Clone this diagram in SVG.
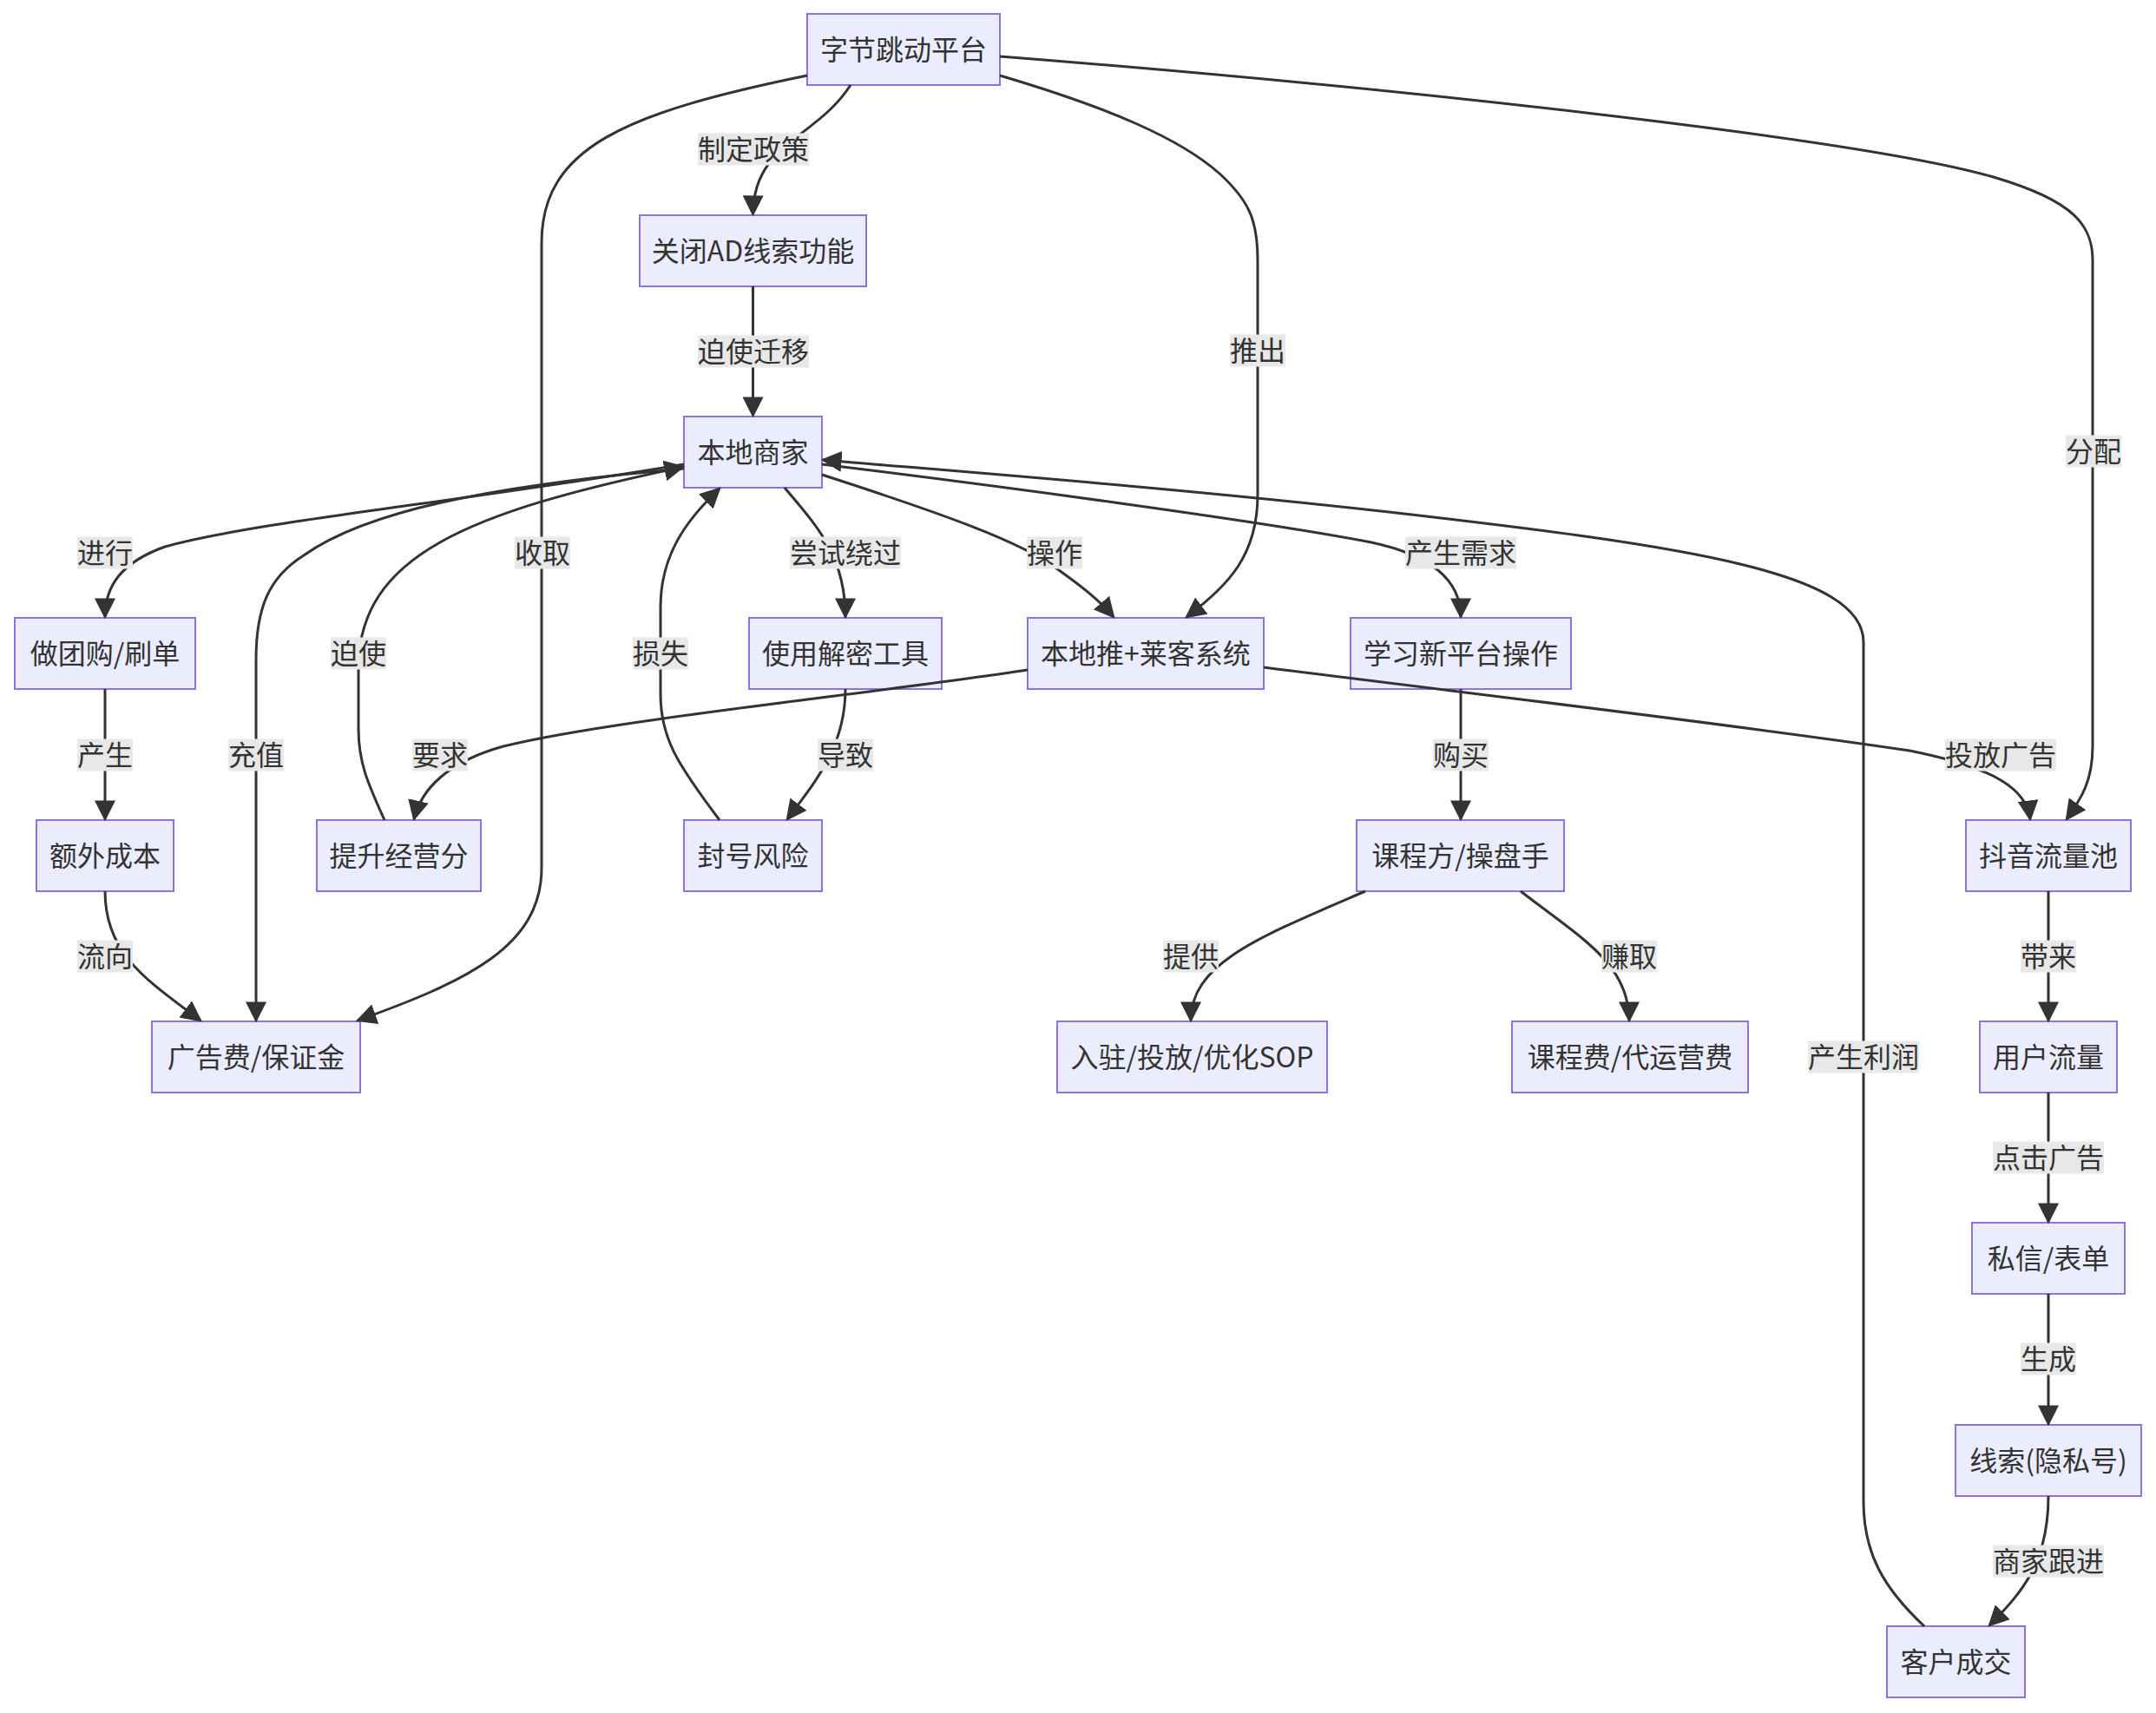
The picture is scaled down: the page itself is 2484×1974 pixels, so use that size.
<svg xmlns="http://www.w3.org/2000/svg" width="2484" height="1974" viewBox="0 0 2484 1974">
<defs>
<style>
.node rect{fill:#ECECFF;stroke:#9370DB;stroke-width:2}
text{font-family:"Noto Sans CJK SC","Liberation Sans",sans-serif;font-size:32px;fill:#333;text-anchor:middle;dominant-baseline:central;transform:translateY(-2px)}
.edge{fill:none;stroke:#333;stroke-width:3;marker-end:url(#arrow)}
.lbl rect{fill:#e8e8e8}
</style>
<marker id="arrow" viewBox="0 0 10 10" refX="9" refY="5" markerWidth="24" markerHeight="24" markerUnits="userSpaceOnUse" orient="auto">
<path d="M0,0 L10,5 L0,10 z" fill="#333"/>
</marker>
</defs>
<rect width="2484" height="1974" fill="#fff"/>
<g id="nodes">
<g id="n1" class="node"><rect x="930" y="16" width="222" height="82"/><text x="1041" y="57">字节跳动平台</text></g>
<g id="n2" class="node"><rect x="737" y="248" width="261" height="82"/><text x="867.5" y="289">关闭AD线索功能</text></g>
<g id="n3" class="node"><rect x="788" y="480" width="159" height="82"/><text x="867.5" y="521">本地商家</text></g>
<g id="n4" class="node"><rect x="17" y="712" width="208" height="82"/><text x="121" y="753">做团购/刷单</text></g>
<g id="n5" class="node"><rect x="863" y="712" width="222" height="82"/><text x="974" y="753">使用解密工具</text></g>
<g id="n6" class="node"><rect x="1184" y="712" width="272" height="82"/><text x="1320" y="753">本地推+莱客系统</text></g>
<g id="n7" class="node"><rect x="1556" y="712" width="254" height="82"/><text x="1683" y="753">学习新平台操作</text></g>
<g id="n8" class="node"><rect x="42" y="945" width="158" height="82"/><text x="121" y="986">额外成本</text></g>
<g id="n9" class="node"><rect x="365" y="945" width="189" height="82"/><text x="459.5" y="986">提升经营分</text></g>
<g id="n10" class="node"><rect x="788" y="945" width="159" height="82"/><text x="867.5" y="986">封号风险</text></g>
<g id="n11" class="node"><rect x="1563" y="945" width="239" height="82"/><text x="1682.5" y="986">课程方/操盘手</text></g>
<g id="n12" class="node"><rect x="2265" y="945" width="190" height="82"/><text x="2360" y="986">抖音流量池</text></g>
<g id="n13" class="node"><rect x="175" y="1177" width="240" height="82"/><text x="295" y="1218">广告费/保证金</text></g>
<g id="n14" class="node"><rect x="1218" y="1177" width="311" height="82"/><text x="1373.5" y="1218">入驻/投放/优化SOP</text></g>
<g id="n15" class="node"><rect x="1742" y="1177" width="272" height="82"/><text x="1878" y="1218">课程费/代运营费</text></g>
<g id="n16" class="node"><rect x="2281" y="1177" width="158" height="82"/><text x="2360" y="1218">用户流量</text></g>
<g id="n17" class="node"><rect x="2272" y="1409" width="176" height="82"/><text x="2360" y="1450">私信/表单</text></g>
<g id="n18" class="node"><rect x="2253" y="1642" width="214" height="82"/><text x="2360" y="1683">线索(隐私号)</text></g>
<g id="n19" class="node"><rect x="2174" y="1874" width="159" height="82"/><text x="2253.5" y="1915">客户成交</text></g>
</g>
<g id="connectors">
<path class="edge" d="M980,98 C940,160 868,165 867.5,247"/>
<path class="edge" d="M867.5,330 L867.5,479"/>
<path class="edge" d="M1152,87 C1280,125 1360,160 1405,200 C1440,232 1449,255 1449,300 L1449,570 C1449,640 1415,675 1367,711"/>
<path class="edge" d="M1152,65 C1600,100 2150,160 2300,205 C2390,232 2411,260 2411,300 L2411,860 C2411,900 2398,920 2381,944"/>
<path class="edge" d="M930,87 C720,130 624,170 624,280 L624,1000 C624,1090 540,1130 412,1176"/>
<path class="edge" d="M788,535 C520,580 300,600 190,630 C140,648 121,675 121,711"/>
<path class="edge" d="M788,540 C560,560 420,590 350,640 C310,665 295,700 295,760 L295,1176"/>
<path class="edge" d="M443,945 C425,905 413,880 413,840 L413,770 C413,640 540,590 787,538"/>
<path class="edge" d="M829,945 C780,880 761,850 761,800 L761,700 C761,640 790,600 829,563"/>
<path class="edge" d="M904,562 C940,605 974,640 974,711"/>
<path class="edge" d="M974,794 C974,860 940,900 907,944"/>
<path class="edge" d="M947,547 C1080,590 1180,625 1220,657 C1245,675 1265,690 1283,711"/>
<path class="edge" d="M947,535 C1150,560 1450,600 1580,625 C1650,640 1683,670 1683,711"/>
<path class="edge" d="M2217,1874 C2170,1830 2147,1790 2147,1730 L2147,740 C2147,660 1950,630 1600,590 C1350,562 1100,543 948,530"/>
<path class="edge" d="M1184,772 C1000,800 700,830 580,860 C515,878 485,910 477,944"/>
<path class="edge" d="M1456,769 C1700,800 2000,835 2200,865 C2300,885 2335,910 2339,944"/>
<path class="edge" d="M1683,794 L1683,944"/>
<path class="edge" d="M121,794 L121,944"/>
<path class="edge" d="M121,1027 C121,1100 170,1130 231,1176"/>
<path class="edge" d="M1573,1027 C1450,1080 1372,1110 1372,1176"/>
<path class="edge" d="M1752,1027 C1820,1080 1877,1110 1877,1176"/>
<path class="edge" d="M2360,1027 L2360,1176"/>
<path class="edge" d="M2360,1259 L2360,1408"/>
<path class="edge" d="M2360,1491 L2360,1641"/>
<path class="edge" d="M2360,1724 C2360,1800 2330,1835 2292,1873"/>
<g class="lbl"><rect x="804" y="153.5" width="128" height="37"/><text x="868" y="172">制定政策</text></g>
<g class="lbl"><rect x="804" y="386.5" width="128" height="37"/><text x="868" y="405">迫使迁移</text></g>
<g class="lbl"><rect x="1417" y="385.5" width="64" height="37"/><text x="1449" y="404">推出</text></g>
<g class="lbl"><rect x="2380" y="501.5" width="64" height="37"/><text x="2412" y="520">分配</text></g>
<g class="lbl"><rect x="593" y="618.5" width="64" height="37"/><text x="625" y="637">收取</text></g>
<g class="lbl"><rect x="89" y="618.5" width="64" height="37"/><text x="121" y="637">进行</text></g>
<g class="lbl"><rect x="910" y="618.5" width="128" height="37"/><text x="974" y="637">尝试绕过</text></g>
<g class="lbl"><rect x="1183" y="618.5" width="64" height="37"/><text x="1215" y="637">操作</text></g>
<g class="lbl"><rect x="1619" y="618.5" width="128" height="37"/><text x="1683" y="637">产生需求</text></g>
<g class="lbl"><rect x="381" y="734.5" width="64" height="37"/><text x="413" y="753">迫使</text></g>
<g class="lbl"><rect x="729" y="734.5" width="64" height="37"/><text x="761" y="753">损失</text></g>
<g class="lbl"><rect x="89" y="851.5" width="64" height="37"/><text x="121" y="870">产生</text></g>
<g class="lbl"><rect x="263" y="851.5" width="64" height="37"/><text x="295" y="870">充值</text></g>
<g class="lbl"><rect x="475" y="851.5" width="64" height="37"/><text x="507" y="870">要求</text></g>
<g class="lbl"><rect x="942" y="851.5" width="64" height="37"/><text x="974" y="870">导致</text></g>
<g class="lbl"><rect x="1651" y="851.5" width="64" height="37"/><text x="1683" y="870">购买</text></g>
<g class="lbl"><rect x="2241" y="851.5" width="128" height="37"/><text x="2305" y="870">投放广告</text></g>
<g class="lbl"><rect x="89" y="1083.5" width="64" height="37"/><text x="121" y="1102">流向</text></g>
<g class="lbl"><rect x="1340" y="1083.5" width="64" height="37"/><text x="1372" y="1102">提供</text></g>
<g class="lbl"><rect x="1845" y="1083.5" width="64" height="37"/><text x="1877" y="1102">赚取</text></g>
<g class="lbl"><rect x="2328" y="1083.5" width="64" height="37"/><text x="2360" y="1102">带来</text></g>
<g class="lbl"><rect x="2083" y="1199.5" width="128" height="37"/><text x="2147" y="1218">产生利润</text></g>
<g class="lbl"><rect x="2296" y="1315.5" width="128" height="37"/><text x="2360" y="1334">点击广告</text></g>
<g class="lbl"><rect x="2328" y="1547.5" width="64" height="37"/><text x="2360" y="1566">生成</text></g>
<g class="lbl"><rect x="2296" y="1780.5" width="128" height="37"/><text x="2360" y="1799">商家跟进</text></g>
</g>
</svg>
